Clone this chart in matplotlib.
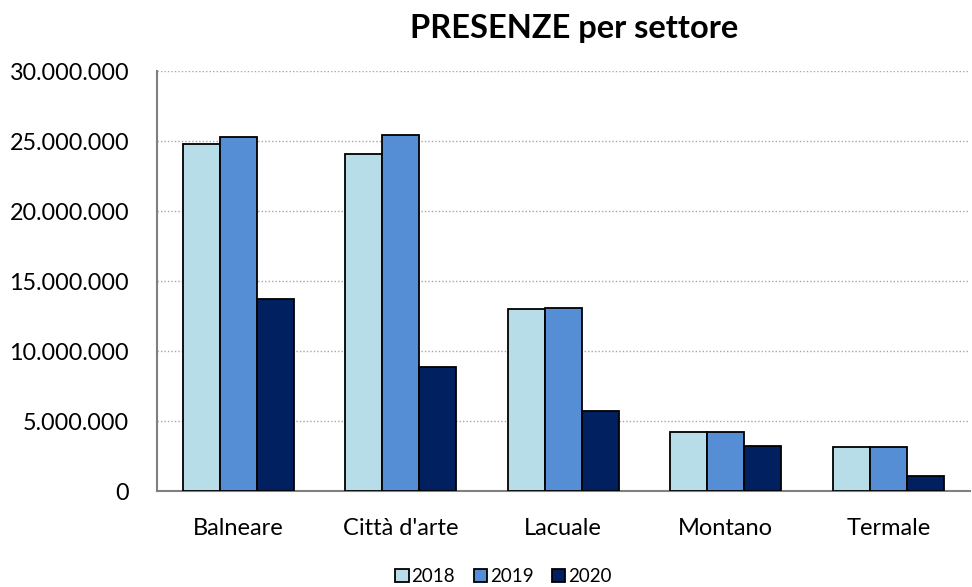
import matplotlib.pyplot as plt
from matplotlib.ticker import FuncFormatter
import numpy as np

settori = ["Balneare", "Città d'arte", "Lacuale", "Montano", "Termale"]
anni = ["2018", "2019", "2020"]
presenze_2018 = [24800000, 24100000, 13000000, 4200000, 3150000]
presenze_2019 = [25300000, 25400000, 13100000, 4250000, 3180000]
presenze_2020 = [13700000, 8850000, 5700000, 3250000, 1100000]
colori = ["#B7DDE8", "#558ED5", "#002060"]

plt.rcParams['font.family'] = ['Lato', 'DejaVu Sans']

fig = plt.figure(figsize=(9.72, 5.87), dpi=100)
ax = fig.add_axes([0.1615, 0.163, 0.836, 0.716])

x = np.arange(len(settori))
w = 0.228
serie = [presenze_2018, presenze_2019, presenze_2020]
for i, (vals, c, a) in enumerate(zip(serie, colori, anni)):
    ax.bar(x + (i - 1) * w, vals, w, color=c, edgecolor='black', linewidth=1.3,
           label=a, zorder=3)

ax.set_xlim(-0.5, len(settori) - 0.5)
ax.set_ylim(0, 30000000)
ax.set_yticks(np.arange(0, 30000001, 5000000))
ax.yaxis.set_major_formatter(FuncFormatter(lambda v, p: f"{int(v):,}".replace(",", ".")))
ax.set_xticks(x)
ax.set_xticklabels(settori)
ax.tick_params(axis='both', length=0, colors='black')
ax.tick_params(axis='y', labelsize=16.8, pad=20)
ax.tick_params(axis='x', labelsize=17, pad=19)

ax.grid(axis='y', linestyle=(0, (1, 1.5)), color='#A6A6A6', linewidth=1, zorder=0)
for s in ['top', 'right']:
    ax.spines[s].set_visible(False)
for s in ['left', 'bottom']:
    ax.spines[s].set_color('#808080')
    ax.spines[s].set_linewidth(1.5)

fig.text(0.591, 0.952, "PRESENZE per settore", ha='center', va='center',
         fontsize=23.5, fontweight='bold')

leg = fig.legend(loc='lower center', bbox_to_anchor=(0.518, -0.025), ncol=3, frameon=False,
                 fontsize=13.5, handlelength=0.7, handleheight=0.7, handletextpad=0.15,
                 columnspacing=1.0)
for h in leg.legend_handles:
    h.set_linewidth(1.3)

fig.savefig("out.png", dpi=100)
